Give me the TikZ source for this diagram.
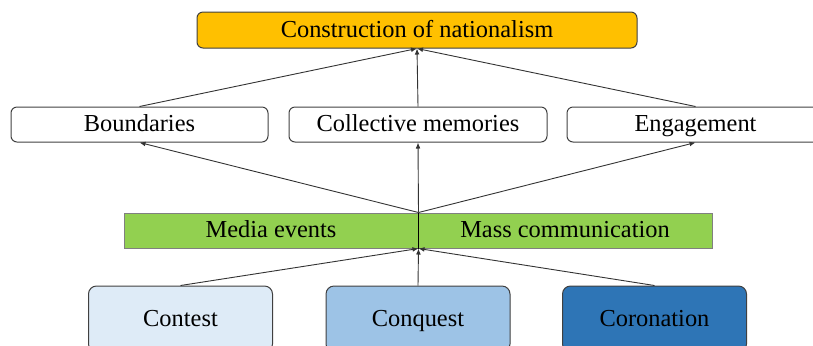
\documentclass[tikz,border=0pt]{standalone}
\usepackage{fontspec}
\setmainfont{Liberation Serif}
\usetikzlibrary{arrows.meta}
\definecolor{orangebox}{HTML}{FFC000}
\definecolor{greenbar}{HTML}{92D050}
\definecolor{blueone}{HTML}{DEEBF7}
\definecolor{bluetwo}{HTML}{9DC3E6}
\definecolor{bluethree}{HTML}{2E75B6}
\definecolor{edgegray}{HTML}{404040}
\begin{document}
\begin{tikzpicture}[x=0.5pt,y=-0.5pt,
		font=\fontsize{12.2}{14}\selectfont,
		every node/.style={text height=9.2pt, text depth=1.9pt},
		box/.style={draw=edgegray, line width=0.5pt, rounded corners=3pt, minimum height=17.5pt, inner sep=0pt},
		bar/.style={draw=gray, line width=0.5pt, fill=greenbar, minimum width=147pt, minimum height=17.5pt, inner sep=0pt},
		base/.style={draw=edgegray, line width=0.5pt, rounded corners=4pt, minimum width=92pt, minimum height=33pt, inner sep=0pt},
		link/.style={draw=black!80, line width=0.45pt, -{Latex[length=3pt,width=2.4pt]}}]
		\useasboundingbox (0,0) rectangle (813,345);

		\node [box, fill=orangebox, minimum width=220pt, minimum height=18pt] (top) at (417,30) {Construction of nationalism};

		\node [box, minimum width=128.5pt] (bnd) at (139.5,124.5) {Boundaries};
		\node [box, minimum width=129pt] (mem) at (418,124.5) {Collective memories};
		\node [box, minimum width=128.5pt] (eng) at (695.5,124.5) {Engagement};

		\node [bar] (media) at (271,230.5) {Media events};
		\node [bar] (mass) at (565,230.5) {Mass communication};

		\node [base, fill=blueone] (contest) at (180.5,319) {Contest};
		\node [base, fill=bluetwo] (conquest) at (418,319) {Conquest};
		\node [base, fill=bluethree] (coronation) at (654.5,319) {Coronation};

		\draw [link] (bnd.north) -- (top.south);
		\draw [link] (mem.north) -- (top.south);
		\draw [link] (eng.north) -- (top.south);

		\draw [line width=0.5pt] (media.south east) -- (media.north east);
		\draw [link] (media.north east) -- (bnd.south);
		\draw [link] (media.north east) -- (mem.south);
		\draw [link] (media.north east) -- (eng.south);

		\draw [link] (contest.north) -- (media.south east);
		\draw [link] (conquest.north) -- (media.south east);
		\draw [link] (coronation.north) -- (media.south east);
	\end{tikzpicture}
\end{document}
